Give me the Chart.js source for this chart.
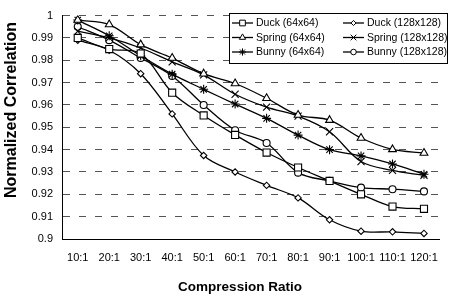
<!DOCTYPE html>
<html>
<head>
<meta charset="utf-8">
<script src="https://cdn.jsdelivr.net/npm/chart.js"></script>
<style>
  html, body { margin: 0; padding: 0; background: #fff; }
  #wrap { width: 450px; height: 298px; }
</style>
</head>
<body>
<div id="wrap"><canvas id="chart" width="450" height="298"></canvas></div>
<script>
// Data
const categories = ['10:1', '20:1', '30:1', '40:1', '50:1', '60:1', '70:1', '80:1', '90:1', '100:1', '110:1', '120:1'];
const duck64    = [0.990, 0.985, 0.983, 0.9655, 0.9553, 0.9466, 0.9387, 0.932, 0.926, 0.920, 0.9145, 0.9135];
const spring64  = [0.998, 0.996, 0.987, 0.981, 0.974, 0.9696, 0.963, 0.9555, 0.9532, 0.9452, 0.9401, 0.9385];
const bunny64   = [0.998, 0.991, 0.982, 0.9738, 0.967, 0.9604, 0.954, 0.9465, 0.940, 0.9372, 0.9336, 0.929];
const duck128   = [0.989, 0.9845, 0.974, 0.956, 0.9374, 0.930, 0.924, 0.9184, 0.9086, 0.9035, 0.9032, 0.9025];
const spring128 = [0.993, 0.990, 0.9855, 0.9793, 0.9735, 0.9648, 0.959, 0.955, 0.948, 0.9347, 0.9307, 0.9285];
const bunny128  = [0.995, 0.989, 0.981, 0.973, 0.960, 0.9487, 0.943, 0.9297, 0.926, 0.923, 0.9223, 0.9213];
const yTicks = [0.9, 0.91, 0.92, 0.93, 0.94, 0.95, 0.96, 0.97, 0.98, 0.99, 1];

Chart.defaults.font.family = 'Arial, "Liberation Sans", sans-serif';
Chart.defaults.color = '#000';

function series(label, data, pointStyle, radius) {
    return {
        label: label,
        data: data,
        borderColor: '#000',
        borderWidth: 1.3,
        backgroundColor: '#fff',
        pointStyle: pointStyle,
        pointRadius: radius,
        pointBorderWidth: 1.1,
        pointBorderColor: '#000',
        pointBackgroundColor: '#fff',
        tension: 0.35
    };
}

// Boxed legend in two columns, drawn inside the plot area like the original
const boxLegend = {
    id: 'boxLegend',
    afterDraw(chart) {
        const ctx = chart.ctx;
        ctx.save();
        ctx.fillStyle = '#fff';
        ctx.fillRect(229.5, 13.5, 218, 50);
        ctx.strokeStyle = '#000';
        ctx.lineWidth = 1;
        ctx.strokeRect(229.5, 13.5, 218, 50);
        ctx.font = '10.5px Arial, "Liberation Sans", sans-serif';
        ctx.textBaseline = 'middle';
        ctx.textAlign = 'left';
        chart.data.datasets.forEach((ds, i) => {
            const col = Math.floor(i / 3);
            const row = i % 3;
            const x0 = col ? 343 : 232;
            const x1 = x0 + 21;
            const y = 23 + row * 14.5;
            ctx.strokeStyle = '#000';
            ctx.lineWidth = 1.3;
            ctx.beginPath();
            ctx.moveTo(x0, y);
            ctx.lineTo(x1, y);
            ctx.stroke();
            ctx.fillStyle = '#fff';
            ctx.lineWidth = 1;
            Chart.helpers.drawPoint(ctx, {
                pointStyle: ds.pointStyle,
                radius: ds.pointRadius * 0.8,
                rotation: 0,
                borderWidth: 1
            }, (x0 + x1) / 2, y);
            ctx.fillStyle = '#000';
            ctx.fillText(ds.label, x1 + 3, y + 0.5);
        });
        ctx.restore();
    }
};

// Axis titles placed where the original has them
const axisTitles = {
    id: 'axisTitles',
    afterDraw(chart) {
        const ctx = chart.ctx;
        ctx.save();
        ctx.fillStyle = '#000';
        ctx.textAlign = 'center';
        ctx.textBaseline = 'middle';
        ctx.font = 'bold 13.5px Arial, "Liberation Sans", sans-serif';
        ctx.fillText('Compression Ratio', 240, 287);
        ctx.translate(12, 110);
        ctx.rotate(-Math.PI / 2);
        ctx.font = 'bold 16px Arial, "Liberation Sans", sans-serif';
        ctx.fillText('Normalized Correlation', 0, 0);
        ctx.restore();
    }
};

new Chart(document.getElementById('chart'), {
    type: 'line',
    data: {
        labels: categories,
        datasets: [
            series('Duck (64x64)', duck64, 'rect', 5),
            series('Spring (64x64)', spring64, 'triangle', 4.5),
            series('Bunny (64x64)', bunny64, 'star', 4.5),
            series('Duck (128x128)', duck128, 'rectRot', 3.2),
            series('Spring (128x128)', spring128, 'crossRot', 5),
            series('Bunny (128x128)', bunny128, 'circle', 3.5)
        ]
    },
    options: {
        responsive: false,
        devicePixelRatio: 1,
        animation: false,
        layout: { padding: { top: 9, right: 0, left: 0, bottom: 0 } },
        plugins: {
            legend: { display: false },
            tooltip: { enabled: false }
        },
        scales: {
            x: {
                offset: true,
                grid: { display: false, drawTicks: false },
                border: { display: true, color: '#000', width: 1 },
                ticks: { padding: 12, font: { size: 11 }, maxRotation: 0, autoSkip: false },
                afterFit: s => { s.height = 59; }
            },
            y: {
                min: 0.9,
                max: 1,
                afterBuildTicks: s => { s.ticks = yTicks.map(v => ({ value: v })); },
                grid: { color: '#555', lineWidth: 1, drawTicks: false },
                border: { display: true, color: '#000', width: 1, dash: [7, 9] },
                ticks: { padding: 9, font: { size: 11 }, callback: v => String(v) },
                afterFit: s => { s.width = 62; }
            }
        }
    },
    plugins: [boxLegend, axisTitles]
});
</script>
</body>
</html>
